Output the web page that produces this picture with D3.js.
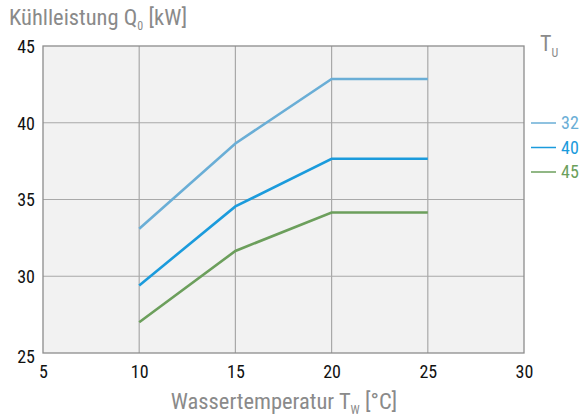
<!DOCTYPE html>
<html><head><meta charset="utf-8">
<script src="https://cdn.jsdelivr.net/npm/d3@7"></script>
<style>
body{margin:0;background:#fff;}
text{font-family:"Liberation Sans Narrow","Roboto Condensed","Roboto",sans-serif;}
</style></head>
<body><svg id="c" width="584" height="418"></svg>
<script>
const xValues = [10, 15, 20, 25];
const series32 = [33.1, 38.65, 42.85, 42.85];
const series40 = [29.4, 34.55, 37.65, 37.65];
const series45 = [27.0, 31.65, 34.15, 34.15];
const seriesNames = ["32", "40", "45"];
const seriesColors = ["#6aaed6", "#1b9bdc", "#6c9f5c"];
const xTicks = [5, 10, 15, 20, 25, 30];
const yTicks = [25, 30, 35, 40, 45];

const svg = d3.select("#c");
const L = 43, R = 524, T = 46, B = 353;
const x = d3.scaleLinear().domain([5, 30]).range([L, R]);
const y = d3.scaleLinear().domain([25, 45]).range([B, T]);

svg.append("rect").attr("x", L).attr("y", T).attr("width", R - L).attr("height", B - T).attr("fill", "#f2f2f2");

const grid = svg.append("g").attr("stroke", "#a9a9a9").attr("stroke-width", 1.2);
xTicks.slice(1, -1).forEach(v => grid.append("line").attr("x1", x(v)).attr("x2", x(v)).attr("y1", T).attr("y2", B));
yTicks.slice(1, -1).forEach(v => grid.append("line").attr("x1", L).attr("x2", R).attr("y1", y(v)).attr("y2", y(v)));
svg.append("rect").attr("x", L).attr("y", T).attr("width", R - L).attr("height", B - T)
  .attr("fill", "none").attr("stroke", "#8c8c8c").attr("stroke-width", 1.3);

// axes labels
const xAxis = d3.axisBottom(x).tickValues(xTicks).tickSize(0).tickPadding(0);
const gx = svg.append("g").attr("transform", `translate(0,${B})`).call(xAxis);
gx.select(".domain").remove();
gx.selectAll("text").attr("dy", null).attr("y", 25).attr("font-size", 18).attr("fill", "#111");

const yAxis = d3.axisLeft(y).tickValues(yTicks).tickSize(0).tickPadding(0);
const gy = svg.append("g").attr("transform", `translate(35,0)`).call(yAxis);
gy.select(".domain").remove();
gy.selectAll("text").attr("font-size", 18).attr("fill", "#111").attr("dy", "0.35em");
gy.selectAll(".tick").filter(d => d === 25).select("text").attr("dy", "0.55em");

// lines
const allSeries = [series32, series40, series45];
const line = d3.line().x((d, i) => x(xValues[i])).y(d => y(d));
allSeries.forEach((s, k) => {
  svg.append("path").datum(s).attr("d", line).attr("fill", "none")
    .attr("stroke", seriesColors[k]).attr("stroke-width", 2.6);
});

// titles
const t1 = svg.append("text").attr("x", 9).attr("y", 25).attr("font-size", 22.5).attr("fill", "#8a8a8a");
t1.append("tspan").text("Kühlleistung Q");
t1.append("tspan").attr("font-size", 12).attr("dy", 5).text("0");
t1.append("tspan").attr("dy", -5).text(" [kW]");

const t2 = svg.append("text").attr("x", 284).attr("y", 409).attr("text-anchor", "middle").attr("font-size", 22.5).attr("fill", "#8a8a8a");
t2.append("tspan").text("Wassertemperatur T");
t2.append("tspan").attr("font-size", 12).attr("dy", 5).text("W");
t2.append("tspan").attr("dy", -5).text(" [°C]");

// legend
const t3 = svg.append("text").attr("x", 540).attr("y", 51).attr("font-size", 22).attr("fill", "#8a8a8a");
t3.append("tspan").text("T");
t3.append("tspan").attr("font-size", 12).attr("dy", 6).text("U");

seriesNames.forEach((n, k) => {
  const yy = 123 + k * 24.5;
  svg.append("line").attr("x1", 531).attr("x2", 556).attr("y1", yy).attr("y2", yy)
    .attr("stroke", seriesColors[k]).attr("stroke-width", 1.5);
  svg.append("text").attr("x", 561).attr("y", yy).attr("dy", "0.36em").attr("font-size", 18)
    .attr("fill", seriesColors[k]).text(n);
});
</script></body></html>
